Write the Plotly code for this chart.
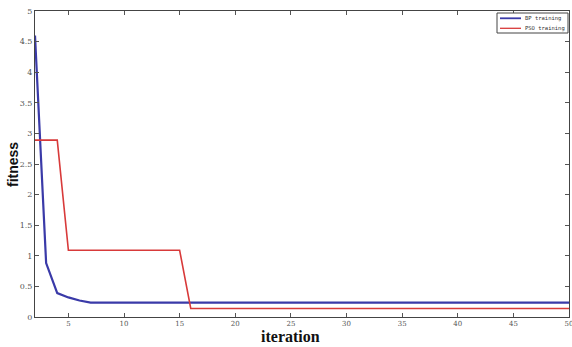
import plotly.graph_objects as go

iterations_bp = [2, 3, 4, 5, 6, 7, 50]
fitness_bp = [4.6, 0.88, 0.39, 0.32, 0.27, 0.235, 0.235]

iterations_pso = [2, 4, 5, 15, 16, 50]
fitness_pso = [2.89, 2.89, 1.09, 1.09, 0.14, 0.14]

x_ticks = [5, 10, 15, 20, 25, 30, 35, 40, 45, 50]
y_ticks = [0, 0.5, 1, 1.5, 2, 2.5, 3, 3.5, 4, 4.5, 5]

series_names = ["BP training", "PSO training"]
series_colors = ["#3a3aa8", "#d83a3a"]

fig = go.Figure()
fig.add_trace(go.Scatter(x=iterations_bp, y=fitness_bp, mode="lines", name=series_names[0],
                         line=dict(color=series_colors[0], width=2.2)))
fig.add_trace(go.Scatter(x=iterations_pso, y=fitness_pso, mode="lines", name=series_names[1],
                         line=dict(color=series_colors[1], width=1.6)))

axis_common = dict(showgrid=False, zeroline=False, showline=True, linecolor="#444",
                   linewidth=1, mirror="ticks", ticks="inside", ticklen=4, tickcolor="#555",
                   ticklabeloverflow="allow")

L, R, T, B = 35, 3, 11, 30
W, H = 572, 347
fig.update_layout(
    width=W, height=H,
    margin=dict(l=L, r=R, t=T, b=B, autoexpand=False),
    paper_bgcolor="white", plot_bgcolor="white",
    showlegend=False,
    xaxis=dict(range=[2, 50], tickvals=x_ticks,
               tickfont=dict(family="DejaVu Serif", size=7, color="#555"), **axis_common),
    yaxis=dict(range=[0, 5], tickvals=y_ticks,
               tickfont=dict(family="DejaVu Serif", size=8, color="#555"), **axis_common),
)
pw = W - L - R
ph = H - T - B
def px2paper(px, py):
    return (px - L) / pw, (H - B - py) / ph

ax, ay = px2paper(290, 336)
fx, fy = px2paper(13, 165)
fig.add_annotation(text="<b>iteration</b>", x=ax, y=ay, xref="paper", yref="paper",
                   showarrow=False, xanchor="center", yanchor="middle",
                   font=dict(family="Liberation Serif", size=16, color="#111"))
fig.add_annotation(text="<b>fitness</b>", x=fx, y=fy, xref="paper", yref="paper",
                   showarrow=False, textangle=-90, xanchor="center", yanchor="middle",
                   font=dict(family="Liberation Sans", size=14, color="#111"))

# compact legend box (top-right), as in the reference
x0, y0 = px2paper(497, 13)
x1, y1 = px2paper(568, 33)
fig.add_shape(type="rect", xref="paper", yref="paper", x0=x0, y0=y1, x1=x1, y1=y0,
              line=dict(color="#444", width=1), fillcolor="white", layer="above")
for i, (name, col) in enumerate(zip(series_names, series_colors)):
    yy = 18.3 + i * 10
    lx0, ly = px2paper(500, yy)
    lx1, _ = px2paper(521, yy)
    tx, _ = px2paper(523, yy)
    fig.add_shape(type="line", xref="paper", yref="paper", x0=lx0, x1=lx1, y0=ly, y1=ly,
                  line=dict(color=col, width=1.8 if i == 0 else 1.3), layer="above")
    fig.add_annotation(text=name, x=tx, y=ly, xref="paper", yref="paper", showarrow=False,
                       xanchor="left", yanchor="middle",
                       font=dict(family="DejaVu Sans Mono", size=5.5, color="#333"))

fig.write_html("out.html", post_script="document.body.style.margin='0';",
               config={"displayModeBar": False})
